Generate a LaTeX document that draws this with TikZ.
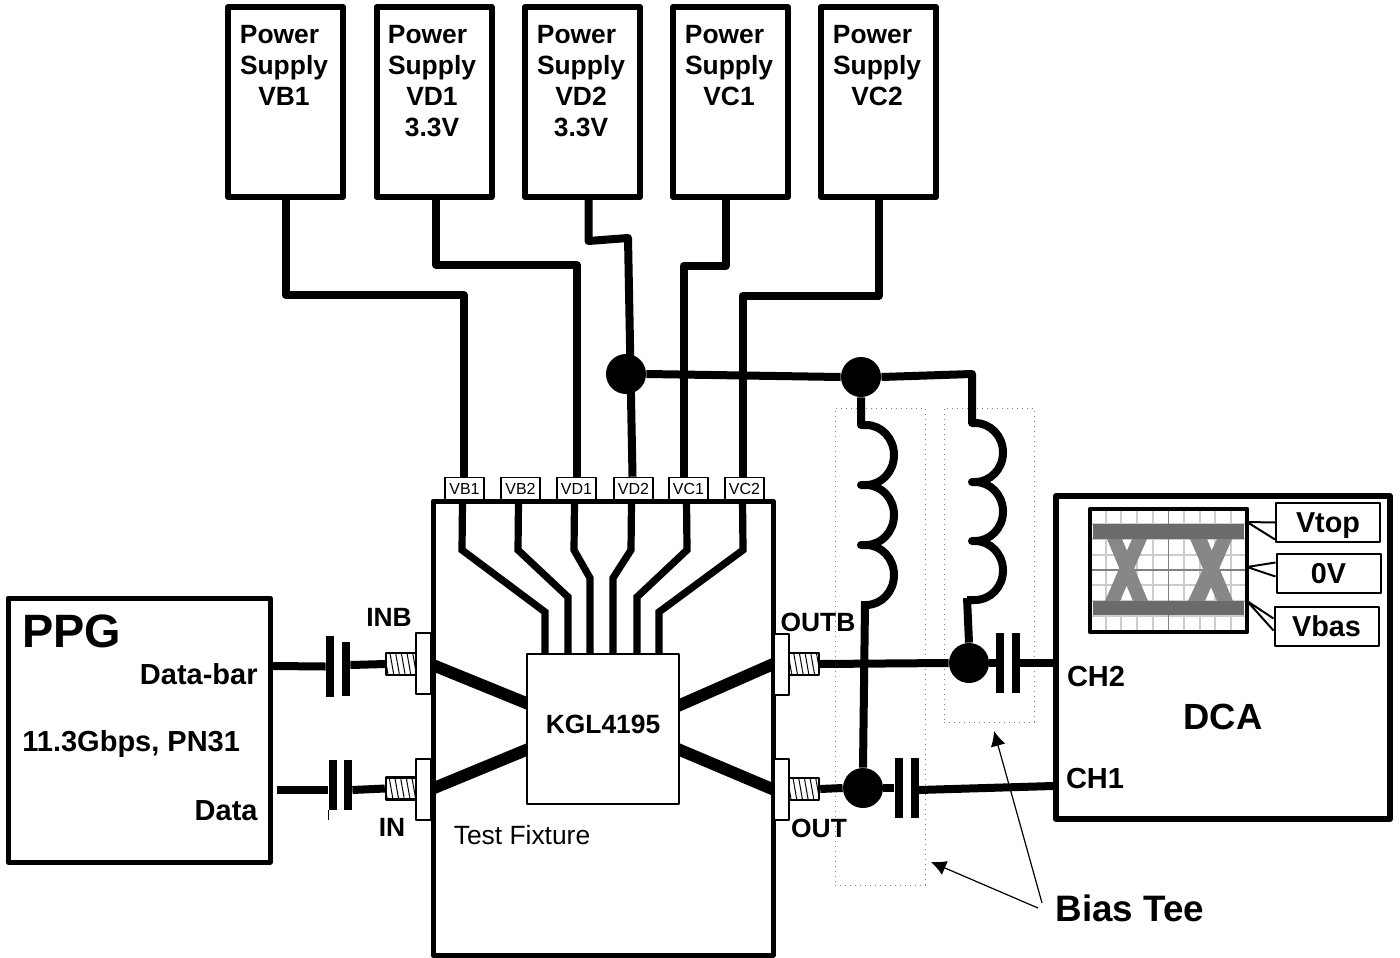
\documentclass[tikz,border=0pt]{standalone}
\usepackage{fontspec}
\setmainfont{Liberation Sans}
\usetikzlibrary{positioning, arrows.meta, patterns.meta, backgrounds}

\begin{document}
\begin{tikzpicture}[x=0.5pt, y=-0.5pt, line join=round,
  supplybox/.style={draw, line width=3pt, inner sep=0pt, minimum width=57.5pt, minimum height=95pt},
  supplytext/.style={anchor=north, align=center, inner sep=0pt, font=\bfseries\fontsize{13.2}{15.5}\selectfont},
  padbox/.style={draw, line width=0.8pt, fill=white, inner sep=0pt, minimum width=19.5pt, minimum height=11pt, font=\fontsize{8}{9}\selectfont},
  boldtext/.style={inner sep=0pt, font=\bfseries\fontsize{13.2}{15.5}\selectfont},
  largetext/.style={inner sep=0pt, font=\bfseries\fontsize{14.5}{17}\selectfont},
  wire/.style={line width=4pt},
  trace/.style={line width=3.6pt},
  signal/.style={line width=6pt, shorten <=-3pt, shorten >=-3pt},
  flange/.style={draw, line width=1pt, fill=white, inner sep=0pt, minimum width=7.5pt, minimum height=30.5pt},
  thread/.style={draw, line width=1.2pt, inner sep=0pt, minimum width=15pt, minimum height=11pt,
    preaction={fill=white}, pattern={Lines[angle=100, distance=2.8pt, line width=0.5pt]}},
  capplate/.style={fill=black, inner sep=0pt, minimum width=4pt, minimum height=30pt},
  junction/.style={circle, fill=black, inner sep=0pt, minimum size=20pt},
  teebox/.style={draw=gray, dotted, line width=0.5pt, inner sep=0pt, minimum width=45pt},
  levelbox/.style={draw, line width=1pt, fill=white, inner sep=0pt, minimum width=52pt, minimum height=19.5pt,
    text height=10.3pt, text depth=0pt, font=\bfseries\fontsize{14.4}{17}\selectfont},
  pointer/.style={line width=0.6pt, -{Latex[length=7.5pt, width=7.5pt]}}]
\useasboundingbox (0,0) rectangle (1400,957);

% Power supplies
\node[supplybox] (psvb1) at (285.5,102) {};
\node[supplybox] (psvd1) at (434,102) {};
\node[supplybox] (psvd2) at (582.5,102) {};
\node[supplybox] (psvc1) at (730.5,102) {};
\node[supplybox] (psvc2) at (878.5,102) {};
\node[supplytext] (txtvb1) at (284,24.5) {Power\hspace*{4.5pt}\\Supply\\VB1};
\node[supplytext] (txtvd1) at (432,24.5) {Power\hspace*{4.5pt}\\Supply\\VD1\\3.3V};
\node[supplytext] (txtvd2) at (581,24.5) {Power\hspace*{4.5pt}\\Supply\\VD2\\3.3V};
\node[supplytext] (txtvc1) at (729,24.5) {Power\hspace*{4.5pt}\\Supply\\VC1};
\node[supplytext] (txtvc2) at (877,24.5) {Power\hspace*{4.5pt}\\Supply\\VC2};

% Test fixture
\node[draw, line width=2.5pt, inner sep=0pt, minimum width=170pt, minimum height=227pt] (fixture) at (603,728) {};
\node[padbox] (padvb1) at (464.5,488.5) {VB1};
\node[padbox] (padvb2) at (520.5,488.5) {VB2};
\node[padbox] (padvd1) at (576.5,488.5) {VD1};
\node[padbox] (padvd2) at (633.5,488.5) {VD2};
\node[padbox] (padvc1) at (688.5,488.5) {VC1};
\node[padbox] (padvc2) at (744.5,488.5) {VC2};
\node[draw, line width=1pt, fill=white, inner sep=0pt, minimum width=76pt, minimum height=75pt] (chip) at (603,729) {};
\node[boldtext] (chipname) at (603,724) {KGL4195};
\node[inner sep=0pt, font=\fontsize{13.2}{15}\selectfont] (fixlabel) at (522,835) {Test Fixture};

% Connectors on the fixture
\node[flange] (flinb) at (423.5,663.5) {};
\node[flange] (flin) at (423.5,789) {};
\node[flange] (floutb) at (781.5,664) {};
\node[flange] (flout) at (781.5,789.5) {};
\node[thread] (thinb) at (401,664) {};
\node[thread] (thin) at (401,788.5) {};
\node[thread] (thoutb) at (804,664) {};
\node[thread] (thout) at (804,789) {};
\node[boldtext] (lblinb) at (389,617) {INB};
\node[boldtext] (lblin) at (392,827) {IN};
\node[boldtext] (lbloutb) at (818,622) {OUTB};
\node[boldtext] (lblout) at (819,828) {OUT};

\begin{scope}[on background layer]
% Fixture traces
\draw[trace] (padvb1.south) ++(-2,0) -- (462,550) -- (545,612) -- ([xshift=-29pt]chip.north);
\draw[trace] (padvb2.south) ++(-2,0) -- (518,550) -- (568,597) -- ([xshift=-17.5pt]chip.north);
\draw[trace] (padvd1.south) ++(-2,0) -- (574,550) -- (590,578) -- ([xshift=-6.5pt]chip.north);
\draw[trace] (padvd2.south) ++(-2,0) -- (631,550) -- (613,578) -- ([xshift=5pt]chip.north);
\draw[trace] (padvc1.south) ++(-2,0) -- (687,550) -- (637,597) -- ([xshift=17pt]chip.north);
\draw[trace] (padvc2.south) ++(-2,0) -- (743,550) -- (659,612) -- ([xshift=28pt]chip.north);
% Differential lines
\draw[signal] (flinb.east) ++(2,2) -- ([yshift=13pt]chip.west);
\draw[signal] (flin.east) ++(2,-1) -- ([yshift=-10.5pt]chip.west);
\draw[signal] (floutb.west) ++(-2,1) -- ([yshift=12pt]chip.east);
\draw[signal] (flout.west) ++(-2,-1) -- ([yshift=-10.5pt]chip.east);
\end{scope}

% Pattern generator
\node[draw, line width=2.5pt, inner sep=0pt, minimum width=131pt, minimum height=132pt] (ppg) at (139,730) {};
\node[inner sep=0pt, anchor=west, font=\bfseries\fontsize{23.4}{27}\selectfont] (ppgname) at (22,631) {PPG};
\node[largetext, anchor=east] (ppgbar) at (258,674) {Data-bar};
\node[largetext, anchor=west] (ppgrate) at (22,744) {11.3Gbps, PN31};
\node[largetext, anchor=east] (ppgdata) at (258,811) {Data};

% Input capacitors
\node[capplate, minimum height=30.5pt] (capinba) at (330,666.5) {};
\node[capplate, minimum height=27pt] (capinbb) at (346,669) {};
\node[capplate, minimum height=25pt] (capina) at (332.5,785) {};
\node[capplate, minimum height=25pt] (capinb) at (348,785) {};
\draw[wire] ([yshift=32pt]ppg.east) -- (capinba.west);
\draw[wire] (capinbb.east) ++(0,-4) -- (thinb.west);
\draw[wire] ([yshift=-30pt, xshift=2pt]ppg.east) -- ([yshift=-2.5pt]capina.west);
\draw[wire] ([yshift=-2.5pt]capinb.east) -- (thin.west);
\draw[line width=0.5pt] (capina.south west) -- ++(0,10);

% Bias tee outlines
\node[teebox, minimum height=238.5pt] (teeout) at (880,646.5) {};
\node[teebox, minimum height=157pt] (teeoutb) at (989,565) {};

% Supply lines
\node[junction] (busa) at (626,374) {};
\node[junction] (busb) at (861,377) {};
\draw[wire] (psvb1.south) -- ++(0,95) -| ([xshift=-0.5pt]padvb1.north);
\draw[wire] ([xshift=1pt]psvd1.south) -- ++(0,65) -| (padvd1.north);
\draw[wire] ([xshift=3pt]psvd2.south) -- ++(0,41) -- (628,238) -- ([xshift=-0.5pt]padvd2.north);
\draw[wire] ([xshift=-2.5pt]psvc1.south) -- ++(0,66) -| ([xshift=-2.5pt]padvc1.north);
\draw[wire] (psvc2.south) -- ++(0,96) -| ([xshift=-1pt]padvc2.north);
\draw[wire] (busa.east) -- (busb.west);
\coordinate (coilbtop) at (972,374);

% DCA
\node[draw, line width=3pt, inner sep=0pt, minimum width=167pt, minimum height=161.5pt] (dca) at (1223,657.5) {};
\node[largetext] (ch2) at (1096,677) {CH2};
\node[largetext] (ch1) at (1095,779) {CH1};
\node[inner sep=0pt, font=\bfseries\fontsize{18.2}{21}\selectfont] (dcaname) at (1223,717) {DCA};

% Eye diagram
\foreach \gx in {1106,1121,1137,1153,1184,1200,1215,1231}
  \draw[gray!40, line width=0.7pt] (\gx,509) -- (\gx,632);
\foreach \gy in {524,539,555,585,601,616}
  \draw[gray!40, line width=0.7pt] (1090,\gy) -- (1247,\gy);
\draw[gray, line width=0.7pt] (1168.5,509) -- (1168.5,632);
\draw[gray, line width=0.7pt] (1090,570) -- (1247,570);
\fill[black!47] (1107,539) -- (1122,539) -- (1148,601) -- (1133,601) -- cycle;
\fill[black!47] (1132,539) -- (1147,539) -- (1120,601) -- (1105,601) -- cycle;
\fill[black!47] (1190,539) -- (1207,539) -- (1233,601) -- (1217,601) -- cycle;
\fill[black!47] (1217,539) -- (1232,539) -- (1205,601) -- (1188,601) -- cycle;
\fill[black!58] (1093,524) rectangle (1244,539);
\fill[black!58] (1093,601) rectangle (1244,615);
\node[draw, line width=2.2pt, inner sep=0pt, minimum width=78.5pt, minimum height=61.5pt] (eye) at (1168.5,570.5) {};

% Level labels
\node[levelbox] (vtop) at (1328,522.5) {Vtop};
\node[levelbox] (zerov) at (1328.5,573.5) {0V};
\node[levelbox] (vbas) at (1326.5,626.5) {Vbas};
\coordinate (tiptop) at (1247,522);
\coordinate (tipzero) at (1247,567);
\coordinate (tipbas) at (1247,601);
\draw[line width=1pt] (vtop.west) -- (tiptop) -- ([yshift=-8.5pt]vtop.west);
\draw[line width=1pt] ([yshift=5.5pt]zerov.west) -- (tipzero) -- ([yshift=-1.5pt]zerov.west);
\draw[line width=1pt] ([yshift=4pt]vbas.west) -- (tipbas) -- ([yshift=-2pt]vbas.west);

% Output side
\node[junction] (dotout) at (863,788) {};
\node[junction] (dotoutb) at (969,663) {};
\node[capplate] (capouta) at (898.5,788) {};
\node[capplate] (capoutb) at (914.5,788) {};
\node[capplate] (capoutba) at (1000,663) {};
\node[capplate] (capoutbb) at (1016,663) {};
\draw[wire] (thoutb.east) -- (dotoutb.west);
\draw[wire] (dotoutb.east) -- (capoutba.west);
\draw[wire] (capoutbb.east) -- ([yshift=-2.75pt]dca.west);
\draw[wire] (thout.east) -- (dotout.west);
\draw[wire] (dotout.east) -- (capouta.west);
\draw[wire] ([yshift=-1pt]capoutb.east) -- ([yshift=-64.25pt]dca.west);

% Inductors
\draw[wire] (busb.south) -- (861,425) -- (866,425)
  arc[start angle=90, end angle=-90, x radius=14pt, y radius=15pt] -- (861,485) -- (866,485)
  arc[start angle=90, end angle=-90, x radius=14pt, y radius=15pt] -- (861,545) -- (866,545)
  arc[start angle=90, end angle=-90, x radius=14pt, y radius=15pt] -- (861,605) coordinate (coilaend);
\draw[wire] ([xshift=1pt]coilaend) ++(2,-2) -- (dotout.north);
\draw[wire] (busb.east) -- (coilbtop) -- (972,423) -- (975,423)
  arc[start angle=90, end angle=-90, x radius=14pt, y radius=14.75pt] -- (972,482) -- (975,482)
  arc[start angle=90, end angle=-90, x radius=14pt, y radius=14.75pt] -- (972,541) -- (975,541)
  arc[start angle=90, end angle=-90, x radius=14pt, y radius=14.75pt] -- (967,600) coordinate (coilbend);
\draw[wire] (coilbend) ++(0,-2) -- (dotoutb.north);

% Bias Tee callout
\node[inner sep=0pt, font=\bfseries\fontsize{18.4}{21}\selectfont] (biastee) at (1130,908) {Bias Tee};
\coordinate (teetail) at (1038,908);
\coordinate (teetailb) at (1042,903);
\coordinate (teetipa) at (931,862);
\coordinate (teetipb) at (994,731);
\draw[pointer] (teetail) -- (teetipa);
\draw[pointer] (teetailb) -- (teetipb);
\end{tikzpicture}
\end{document}
